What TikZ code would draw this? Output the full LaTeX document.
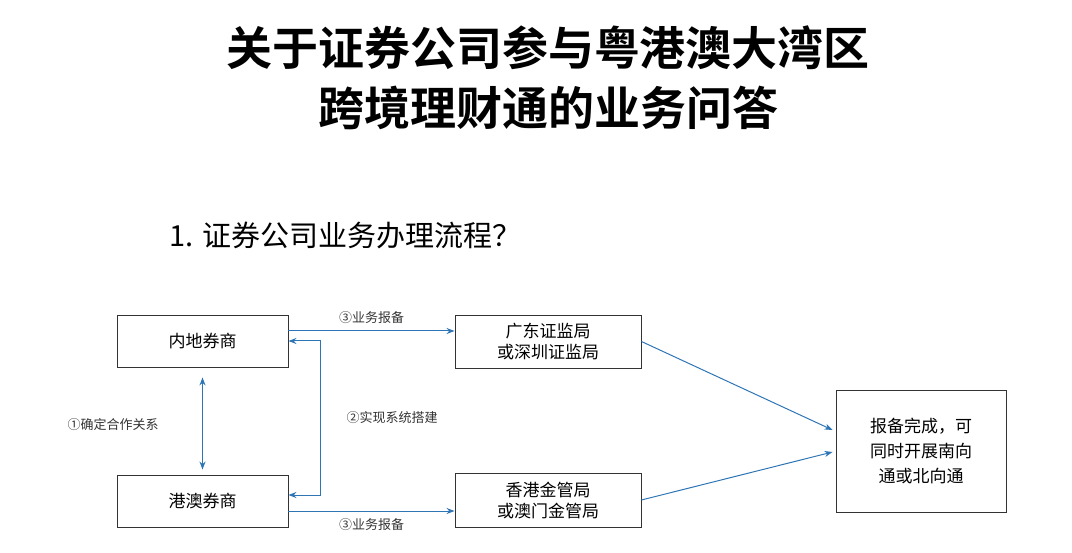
\documentclass[tikz,border=0pt]{standalone}
\usepackage{fontspec}
\setmainfont{Noto Sans CJK SC}
\newfontfamily\cjkbold{Noto Sans CJK SC Bold}
\usetikzlibrary{arrows.meta}
\definecolor{arrowblue}{RGB}{46,117,182}
\tikzset{
  box/.style={draw=black!80, line width=0.9pt, minimum width=171pt, minimum height=52pt, align=center, font=\fontsize{17}{21}\selectfont},
  flow/.style={draw=arrowblue, line width=1pt, -{Stealth[length=8pt,width=6pt]}},
  note/.style={font=\fontsize{13}{15}\selectfont, text=black!80}
}
\begin{document}
\begin{tikzpicture}[x=1pt,y=-1pt]
\useasboundingbox (0,0) rectangle (1072,553);
% title
\node (title1) at (548,48) {\cjkbold\fontsize{46}{50}\selectfont 关于证券公司参与粤港澳大湾区};
\node (title2) at (548,108) {\cjkbold\fontsize{46}{50}\selectfont 跨境理财通的业务问答};
\node[anchor=west] (sub) at (166,235) {\fontsize{29}{32}\selectfont 1. 证券公司业务办理流程？};
% boxes
\node[box] (mainland) at (202.5,341) {内地券商};
\node[box] (hkmacau) at (202.5,501) {港澳券商};
\node[box, minimum width=186pt, minimum height=53pt] (gd) at (548,341.5) {广东证监局\\或深圳证监局};
\node[box, minimum width=186pt, minimum height=54pt] (hk) at (548,500) {香港金管局\\或澳门金管局};
\node[box, minimum width=170pt, minimum height=122pt, font=\fontsize{17}{25}\selectfont] (done) at (921,451) {报备完成，可\\同时开展南向\\通或北向通};
% connectors
\draw[flow] ([yshift=10pt]mainland.east) -- (gd.west |- {(0,331)}) node[note, midway, above=4pt] {③业务报备};
\draw[flow] ([yshift=-10pt]hkmacau.east) -- (hk.west |- {(0,511)}) node[note, midway, below=4pt] {③业务报备};
\draw[flow, {Stealth[length=8pt,width=6pt]}-{Stealth[length=8pt,width=6pt]}] ([yshift=-10pt]mainland.south) -- ([yshift=5pt]hkmacau.north);
\node[note] (coop) at (113,425) {①确定合作关系};
\draw[flow, {Stealth[length=8pt,width=6pt]}-{Stealth[length=8pt,width=6pt]}] (mainland.east) -- (320,341) -- (320,495) -- (hkmacau.east |- {(0,495)});
\node[note] (sys) at (392,418) {②实现系统搭建};
\draw[flow] (gd.east) -- ([xshift=-3pt,yshift=21pt]done.west);
\draw[flow] (hk.east) -- ([xshift=-3pt,yshift=-1pt]done.west);
\end{tikzpicture}
\end{document}
